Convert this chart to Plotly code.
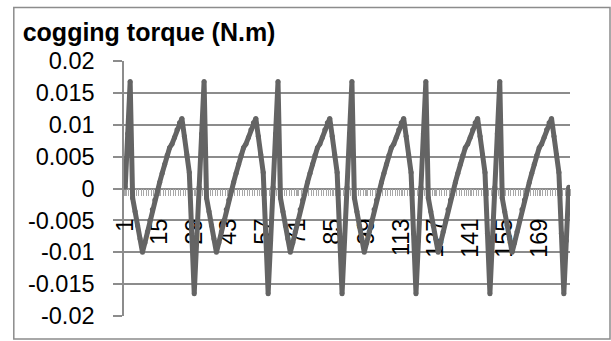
import plotly.graph_objects as go

# ---- data ----
categories = list(range(1, 182))
torque = [
    0.0002, 0.0086, 0.0168, -0.0015, -0.0036, -0.0058, -0.0079, -0.0100, -0.0085, -0.0068,
    -0.0050, -0.0033, -0.0018, -0.0004, 0.0010, 0.0024, 0.0038, 0.0052, 0.0064, 0.0070,
    0.0080, 0.0092, 0.0103, 0.0110, 0.0082, 0.0053, 0.0025, -0.0070, -0.0165, -0.0082,
    0.0002, 0.0086, 0.0168, -0.0015, -0.0036, -0.0058, -0.0079, -0.0100, -0.0085, -0.0068,
    -0.0050, -0.0033, -0.0018, -0.0004, 0.0010, 0.0024, 0.0038, 0.0052, 0.0064, 0.0070,
    0.0080, 0.0092, 0.0103, 0.0110, 0.0082, 0.0053, 0.0025, -0.0070, -0.0165, -0.0082,
    0.0002, 0.0086, 0.0168, -0.0015, -0.0036, -0.0058, -0.0079, -0.0100, -0.0085, -0.0068,
    -0.0050, -0.0033, -0.0018, -0.0004, 0.0010, 0.0024, 0.0038, 0.0052, 0.0064, 0.0070,
    0.0080, 0.0092, 0.0103, 0.0110, 0.0082, 0.0053, 0.0025, -0.0070, -0.0165, -0.0082,
    0.0002, 0.0086, 0.0168, -0.0015, -0.0036, -0.0058, -0.0079, -0.0100, -0.0085, -0.0068,
    -0.0050, -0.0033, -0.0018, -0.0004, 0.0010, 0.0024, 0.0038, 0.0052, 0.0064, 0.0070,
    0.0080, 0.0092, 0.0103, 0.0110, 0.0082, 0.0053, 0.0025, -0.0070, -0.0165, -0.0082,
    0.0002, 0.0086, 0.0168, -0.0015, -0.0036, -0.0058, -0.0079, -0.0100, -0.0085, -0.0068,
    -0.0050, -0.0033, -0.0018, -0.0004, 0.0010, 0.0024, 0.0038, 0.0052, 0.0064, 0.0070,
    0.0080, 0.0092, 0.0103, 0.0110, 0.0082, 0.0053, 0.0025, -0.0070, -0.0165, -0.0082,
    0.0002, 0.0086, 0.0168, -0.0015, -0.0036, -0.0058, -0.0079, -0.0100, -0.0085, -0.0068,
    -0.0050, -0.0033, -0.0018, -0.0004, 0.0010, 0.0024, 0.0038, 0.0052, 0.0064, 0.0070,
    0.0080, 0.0092, 0.0103, 0.0110, 0.0082, 0.0053, 0.0025, -0.0070, -0.0165, -0.0082,
    0.0002,
]
x_tick_vals = [1, 15, 29, 43, 57, 71, 85, 99, 113, 127, 141, 155, 169]
x_tick_text = ["1", "15", "29", "43", "57", "71", "85", "99", "113", "127", "141", "155", "169"]
y_tick_vals = [-0.02, -0.015, -0.01, -0.005, 0, 0.005, 0.01, 0.015, 0.02]
y_tick_text = ["-0.02", "-0.015", "-0.01", "-0.005", "0", "0.005", "0.01", "0.015", "0.02"]
title_text = "cogging torque (N.m)"

GRID = "#8c8c8c"
LINE = "#646464"
FONT = "Liberation Sans"
LW = 5

fig = go.Figure()
fig.add_trace(go.Scatter(
    x=categories, y=torque, mode="lines+markers",
    line=dict(color=LINE, width=LW),
    marker=dict(color=LINE, size=LW, line=dict(width=0)),
    hoverinfo="skip", showlegend=False,
))

fig.update_layout(
    width=611, height=341,
    margin=dict(l=124, r=41, t=61, b=15, pad=0),
    paper_bgcolor="white", plot_bgcolor="white",
    font=dict(family=FONT, size=23.5, color="black"),
    title=dict(
        text=title_text, xref="container", yref="container",
        x=22.7 / 611, xanchor="left", y=1 - 32 / 341, yanchor="middle",
        pad=dict(l=0, r=0, t=0, b=0),
        font=dict(family=FONT, size=25, color="black", weight="bold"),
    ),
    xaxis=dict(
        range=[0.5, 181.5], anchor="free", position=0.5,
        layer="below traces",
        showline=True, linecolor=GRID, linewidth=1.5,
        showgrid=False, zeroline=False,
        tickmode="array", tickvals=x_tick_vals, ticktext=x_tick_text,
        ticks="outside", ticklen=7, tickcolor="#a8a8a8", tickwidth=1,
        tickangle=-90, ticklabelstandoff=13,
        tickfont=dict(family=FONT, size=23.5, color="black"),
        minor=dict(tickmode="linear", tick0=0.5, dtick=1, ticks="outside",
                   ticklen=7, tickcolor="#a8a8a8", tickwidth=1, showgrid=False),
    ),
    yaxis=dict(
        range=[-0.02, 0.02], domain=[0, 1],
        layer="below traces",
        showline=True, linecolor=GRID, linewidth=1.5,
        showgrid=True, gridcolor=GRID, gridwidth=1.5, zeroline=False,
        tickmode="array", tickvals=y_tick_vals, ticktext=y_tick_text,
        ticks="outside", ticklen=9, tickcolor=GRID, tickwidth=1.5,
        ticklabelstandoff=14,
        tickfont=dict(family=FONT, size=23.5, color="black"),
    ),
    shapes=[dict(
        type="rect", xref="paper", yref="paper",
        x0=(13.8 - 124) / 446, x1=(610 - 124) / 446,
        y0=(326 - 350) / 265, y1=(326 - 5.5) / 265,
        line=dict(color="#8c8c8c", width=1.5), fillcolor="rgba(0,0,0,0)",
        layer="below",
    )],
)

fig.write_html("out.html")
